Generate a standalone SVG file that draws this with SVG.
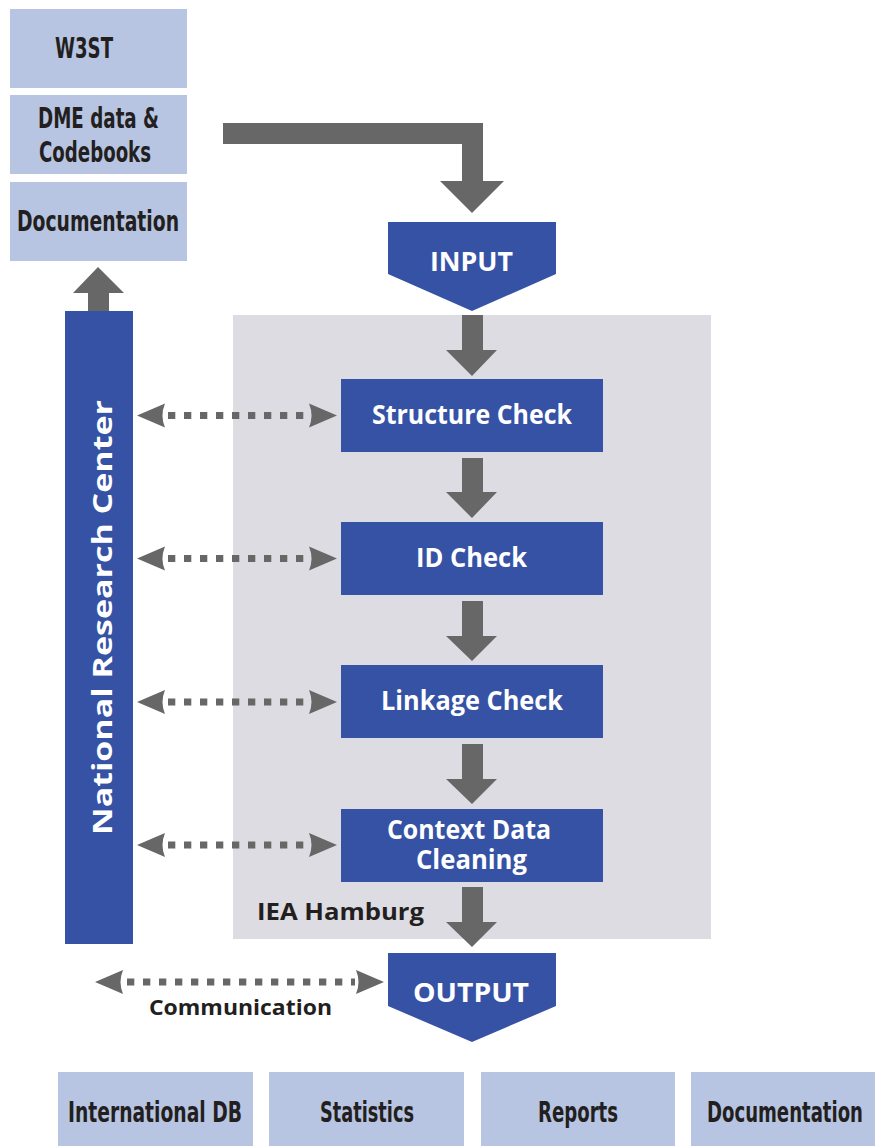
<svg xmlns="http://www.w3.org/2000/svg" width="875" height="1146" viewBox="0 0 875 1146">
  <defs>
    <style>
      .doc { fill: #b7c5e2; }
      .step { fill: #3652a5; }
      .flow { fill: #676767; }
      .dots { stroke: #676767; stroke-width: 7; stroke-dasharray: 7.3 8.7; fill: none; }
      .label { font-family: "Liberation Sans Narrow", "DejaVu Sans Condensed", "Liberation Sans", sans-serif; font-weight: bold; font-size: 29px; fill: #231f20; text-anchor: middle; }
      .white { font-family: "Open Sans", "Liberation Sans", sans-serif; font-weight: 700; font-size: 26px; fill: #ffffff; text-anchor: middle; }
      .dark { font-family: "Open Sans", "Liberation Sans", sans-serif; font-weight: 700; fill: #231f20; }
    </style>
    <!-- arrowhead with a slightly hollow back, tip at the origin, pointing left -->
    <path id="headL" d="M0,0 L28,-12 Q23,0 28,12 Z"/>
  </defs>

  <rect x="0" y="0" width="875" height="1146" fill="#ffffff"/>

  <!-- IEA Hamburg work area -->
  <g id="iea-hamburg">
    <rect x="233" y="315" width="478" height="624" fill="#dddce2"/>
    <text class="dark" x="257" y="920" font-size="24" textLength="167" lengthAdjust="spacingAndGlyphs">IEA Hamburg</text>
  </g>

  <!-- input documents -->
  <g id="w3st">
    <rect class="doc" x="10" y="9" width="177" height="79"/>
    <text class="label" x="84" y="58" textLength="58" lengthAdjust="spacingAndGlyphs">W3ST</text>
  </g>
  <g id="dme-data">
    <rect class="doc" x="10" y="95" width="177" height="79"/>
    <text class="label" x="98.5" y="128" textLength="121" lengthAdjust="spacingAndGlyphs">DME data &amp;</text>
    <text class="label" x="95" y="162" textLength="112" lengthAdjust="spacingAndGlyphs">Codebooks</text>
  </g>
  <g id="documentation-in">
    <rect class="doc" x="10" y="182" width="177" height="79"/>
    <text class="label" x="98" y="231" textLength="162" lengthAdjust="spacingAndGlyphs">Documentation</text>
  </g>

  <!-- national research center bar -->
  <g id="national-research-center">
    <rect class="step" x="65" y="311" width="68" height="633"/>
    <text class="white" transform="translate(112,617.5) rotate(-90)" x="0" y="0" font-size="30" textLength="435" lengthAdjust="spacingAndGlyphs">National Research Center</text>
  </g>

  <!-- process steps -->
  <g id="input">
    <polygon class="step" points="388,222 556,222 556,274 472,311 388,274"/>
    <text class="white" x="471.5" y="271" font-size="28" textLength="83" lengthAdjust="spacingAndGlyphs">INPUT</text>
  </g>
  <g id="structure-check">
    <rect class="step" x="341" y="379" width="262" height="73"/>
    <text class="white" x="472" y="424" textLength="200" lengthAdjust="spacingAndGlyphs">Structure Check</text>
  </g>
  <g id="id-check">
    <rect class="step" x="341" y="522" width="262" height="73"/>
    <text class="white" x="471.5" y="567" textLength="111" lengthAdjust="spacingAndGlyphs">ID Check</text>
  </g>
  <g id="linkage-check">
    <rect class="step" x="341" y="665" width="262" height="73"/>
    <text class="white" x="472" y="710" textLength="182" lengthAdjust="spacingAndGlyphs">Linkage Check</text>
  </g>
  <g id="context-data-cleaning">
    <rect class="step" x="341" y="809" width="262" height="73"/>
    <text class="white" x="469" y="839" font-size="24" textLength="164" lengthAdjust="spacingAndGlyphs">Context Data</text>
    <text class="white" x="471.5" y="869" font-size="24" textLength="111" lengthAdjust="spacingAndGlyphs">Cleaning</text>
  </g>
  <g id="output">
    <polygon class="step" points="388,953 556,953 556,1006 472,1042 388,1006"/>
    <text class="white" x="471" y="1002" font-size="28" textLength="116" lengthAdjust="spacingAndGlyphs">OUTPUT</text>
  </g>

  <!-- output products -->
  <g id="international-db">
    <rect class="doc" x="58" y="1072" width="195" height="74"/>
    <text class="label" x="155" y="1122" textLength="174" lengthAdjust="spacingAndGlyphs">International DB</text>
  </g>
  <g id="statistics">
    <rect class="doc" x="269" y="1072" width="195" height="74"/>
    <text class="label" x="367" y="1122" textLength="94" lengthAdjust="spacingAndGlyphs">Statistics</text>
  </g>
  <g id="reports">
    <rect class="doc" x="481" y="1072" width="194" height="74"/>
    <text class="label" x="578" y="1122" textLength="80" lengthAdjust="spacingAndGlyphs">Reports</text>
  </g>
  <g id="documentation-out">
    <rect class="doc" x="691" y="1072" width="184" height="74"/>
    <text class="label" x="785" y="1122" textLength="156" lengthAdjust="spacingAndGlyphs">Documentation</text>
  </g>

  <!-- connectors -->
  <g id="connectors">
    <!-- documents into INPUT -->
    <path class="flow" d="M223,123 H483 V181 H504 L472,213 L440,181 H462 V144 H223 Z"/>
    <!-- research center back to documentation -->
    <path class="flow" d="M88,311 V293 H73 L98,267 L124,293 H109 V311 Z"/>

    <!-- main flow downwards -->
    <path class="flow" d="M462,315 H483 V350 H497 L472,376 L446,350 H462 Z"/>
    <path class="flow" d="M462,458 H483 V492 H497 L472,518 L446,492 H462 Z"/>
    <path class="flow" d="M462,601 H483 V636 H497 L472,661 L446,636 H462 Z"/>
    <path class="flow" d="M462,744 H483 V779 H497 L472,804 L446,779 H462 Z"/>
    <path class="flow" d="M462,887 H483 V922 H497 L472,947 L446,922 H462 Z"/>

    <!-- two-way exchange with the research center -->
    <g id="exchange-structure">
      <line class="dots" x1="168" y1="415.5" x2="308" y2="415.5"/>
      <use href="#headL" class="flow" transform="translate(137,415.5)"/>
      <use href="#headL" class="flow" transform="translate(337,415.5) scale(-1,1)"/>
    </g>
    <g id="exchange-id">
      <line class="dots" x1="168" y1="558.5" x2="308" y2="558.5"/>
      <use href="#headL" class="flow" transform="translate(137,558.5)"/>
      <use href="#headL" class="flow" transform="translate(337,558.5) scale(-1,1)"/>
    </g>
    <g id="exchange-linkage">
      <line class="dots" x1="168" y1="702" x2="308" y2="702"/>
      <use href="#headL" class="flow" transform="translate(137,702)"/>
      <use href="#headL" class="flow" transform="translate(337,702) scale(-1,1)"/>
    </g>
    <g id="exchange-context">
      <line class="dots" x1="168" y1="845" x2="308" y2="845"/>
      <use href="#headL" class="flow" transform="translate(137,845)"/>
      <use href="#headL" class="flow" transform="translate(337,845) scale(-1,1)"/>
    </g>

    <!-- communication with OUTPUT -->
    <g id="communication">
      <line class="dots" x1="127" y1="982" x2="355" y2="982"/>
      <use href="#headL" class="flow" transform="translate(95,982)"/>
      <use href="#headL" class="flow" transform="translate(384,982) scale(-1,1)"/>
      <text class="dark" x="240.5" y="1015" font-size="21" text-anchor="middle" textLength="183" lengthAdjust="spacingAndGlyphs">Communication</text>
    </g>
  </g>
</svg>
